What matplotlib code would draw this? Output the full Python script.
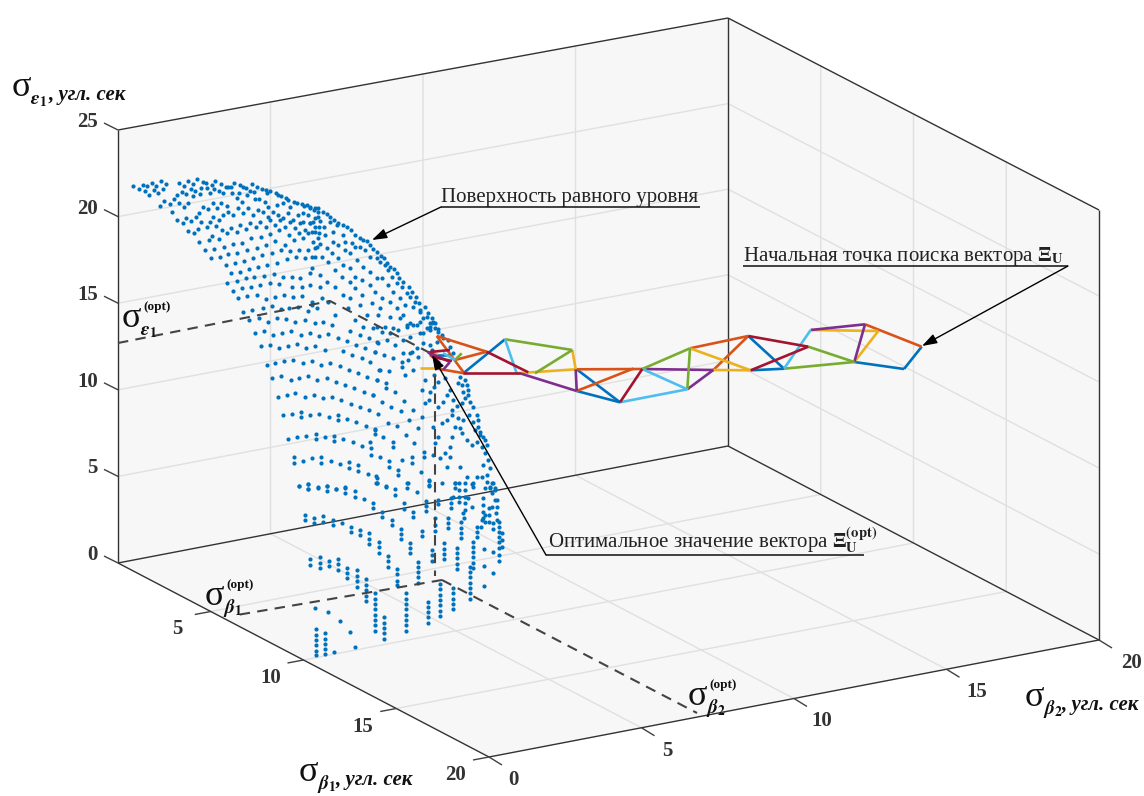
import numpy as np
import matplotlib
matplotlib.use('Agg')
import matplotlib.pyplot as plt

plt.rcParams['font.family'] = ['Liberation Serif', 'DejaVu Serif']
plt.rcParams['mathtext.fontset'] = 'stix'

# Axis limits and ticks
b1_ticks = [0, 5, 10, 15, 20]
b2_ticks = [0, 5, 10, 15, 20]
e_ticks = [0, 5, 10, 15, 20, 25]

# Box corners as they fall on the picture (b1, b2, top)
corners = {
    (0, 0, 0): (118, 563), (0, 1, 0): (728, 446), (1, 0, 0): (489, 757), (1, 1, 0): (1099, 640),
    (0, 0, 1): (118, 130), (0, 1, 1): (728, 18), (1, 0, 1): (489, 322), (1, 1, 1): (1099, 210),
}

# Points of the equal-level surface, read from the picture region by region
# each region: offset of the crop and points in crop units (3 units = 1 pixel)
pts_top_left = [
    (38,48),(56,58),(68,45),(74,62),(82,48),(88,75),(95,40),(102,60),(108,47),(115,70),(122,33),(128,57),(139,43),
    (178,40),(192,48),(205,33),(218,42),(231,27),(248,37),(258,40),(276,46),(285,33),(302,41),(318,50),(325,50),(333,52),
    (342,40),(360,45),(368,50),(378,55),(395,42),(390,62),(402,65),(412,52),(425,57),(438,60),(450,62),(467,68),(475,75),
    (483,78),(497,85),(505,90),(522,95),(530,100),(545,102),(552,108),(560,105),(570,112),(585,115),(595,115),
    (133,93),(121,108),(150,102),(163,88),(178,98),(172,76),(192,112),(155,126),(205,100),(185,65),(198,72),(212,58),
    (218,78),(226,62),(240,72),(244,55),(262,55),(270,68),(282,58),(298,64),(310,70),(335,70),(350,85),(358,70),(365,95),
    (380,75),(405,87),(418,88),(435,95),(440,70),(445,112),(470,105),(490,100),(510,112),(550,130),
    (172,150),(190,158),(198,143),(213,152),(228,140),(243,155),(237,128),(250,112),(265,118),(280,100),(292,115),(302,98),(322,108),
    (205,183),(222,190),(235,177),(238,215),(262,172),(270,155),(288,167),(280,140),(297,150),(310,135),(325,125),(340,135),
    (355,115),(370,130),(385,115),(400,135),(415,120),(430,125),(445,140),(460,125),(475,135),(490,145),(505,130),(520,150),
    (535,135),(550,155),(565,135),(580,155),(595,140),
    (268,210),(275,198),(296,208),(305,180),(322,190),(333,175),(350,185),(360,165),(377,178),(390,160),(407,172),(420,155),
    (437,170),(450,150),(465,165),(480,150),(495,170),(510,155),(525,175),(540,160),(555,180),(570,160),(585,185),(598,170),
    (255,240),(283,237),(312,230),(338,222),(365,218),(392,205),(422,202),(450,192),(478,180),(508,195),(538,190),(565,190),(595,205),
    (272,263),(300,260),(325,252),(352,248),(380,240),(410,235),(437,225),(465,212),(495,225),(522,210),(550,205),(578,215),
    (318,285),(345,280),(372,272),(398,265),(425,255),(455,248),(482,240),(510,242),(538,240),(565,240),(592,230),
    (332,308),(360,305),(388,298),(415,292),(442,285),(472,278),(500,268),(528,262),(556,265),(585,260),
    (320,338),(350,332),(377,325),(403,322),(432,318),(462,312),(488,320),(515,322),(540,325),(570,310),
    (338,362),(365,355),(393,350),(420,345),(450,340),(478,343),(515,350),(545,352),(600,350),
    (355,385),(382,378),(410,375),(437,388),(465,380),(492,375),(520,382),(547,378),(575,395),
    (370,425),(397,420),(428,415),(455,408),(482,418),(508,415),(535,410),(565,422),(590,415),
    (388,450),(418,445),(445,455),(472,445),(498,448),(525,455),(555,450),(585,458),
]
pts_top_right = [
    (0,115),(12,120),(25,125),(38,125),(50,132),(60,140),(72,150),(85,160),(98,165),(110,172),(122,180),(135,195),(150,205),
    (160,210),(170,212),(180,225),(190,238),(200,245),(212,258),(222,265),(232,280),(240,292),(252,297),(262,310),(268,325),
    (280,335),(296,350),(305,365),(318,382),(328,398),(345,410),(355,430),(365,445),(375,460),(385,478),
    (15,145),(30,152),(43,170),(60,155),(70,185),(80,165),(100,195),(105,215),(125,220),(135,230),(150,232),(165,240),(180,260),
    (200,265),(210,275),(225,285),(235,300),(245,320),(262,340),(275,350),(290,370),(300,380),(315,395),(330,420),(350,440),(365,458),
    (0,160),(15,170),(5,185),(28,190),(45,195),(70,215),(85,225),(105,240),(120,250),(140,270),(160,290),(180,305),(200,325),
    (215,325),(235,345),(250,365),(270,385),(285,405),(310,410),(330,425),(340,445),(360,470),
    (15,235),(30,222),(50,235),(65,250),(85,265),(100,285),(120,295),(135,320),(155,330),(180,345),(195,365),(215,385),(240,395),
    (260,415),(280,435),(300,460),(320,465),
    (5,260),(35,260),(55,275),(75,300),(95,320),(120,335),(135,355),(155,375),(185,400),(210,415),(240,440),(270,445),(290,470),
    (5,295),(30,315),(50,335),(75,350),(100,375),(120,385),(150,405),(170,435),(205,435),(225,470),(250,475),
    (0,345),(35,385),(55,395),(75,435),(115,415),(135,450),(160,470),(200,470),(40,455),(65,465),(5,405),
]
pts_mid_left = [
    (44,40),(73,34),(100,46),(127,40),(154,34),(184,46),(211,40),(238,48),(265,43),(295,55),(321,64),(330,34),(360,46),(387,55),(415,68),
    (62,79),(89,75),(118,85),(145,79),(172,73),(199,85),(226,79),(256,91),(310,94),(336,106),(348,75),(375,85),(405,97),
    (80,135),(106,129),(133,124),(160,120),(190,129),(217,124),(243,135),(270,129),(300,139),(327,151),(354,159),(366,115),(381,171),(411,181),(418,151),
    (95,174),(122,168),(152,180),(178,174),(205,168),(232,180),(262,174),(288,186),(315,195),(342,204),(372,215),(399,225),
    (113,231),(140,225),(166,219),(196,231),(223,225),(250,234),(277,231),(303,240),(333,251),(360,261),(387,269),(414,281),
    (128,285),(157,281),(184,275),(184,291),(211,285),(238,281),(268,291),(294,284),(294,300),(321,296),(348,306),(378,318),(405,326),(405,342),
    (145,356),(172,350),(199,347),(229,341),(229,356),(256,350),(283,347),(283,362),(309,356),(339,365),(366,377),(393,385),(393,404),
    (163,412),(163,428),(190,422),(217,415),(244,412),(244,428),(273,422),(300,433),(327,427),(327,443),(354,436),(354,452),(384,463),(411,473),(411,490),
    (178,499),(205,493),(205,508),(235,503),(262,499),(288,508),(315,503),
]
pts_mid_right = [
    (15,97),(0,127),(42,105),(30,150),(68,115),(58,152),(95,125),(20,180),(47,188),(47,205),(75,215),(8,225),(35,245),(62,262),
    (103,242),(128,270),(92,272),(156,292),(118,300),(15,330),(40,352),(68,365),(68,380),(107,345),(80,318),(53,308),(145,323),
    (133,368),(0,365),(30,412),(58,422),(58,440),(85,450),(85,465),(125,412),(125,428),(97,420),(162,395),(162,412),(152,455),
    (18,468),(18,490),(47,500),(178,480),(178,497),(115,490),(110,505),(178,240),(165,250),(180,215),(155,210),(192,200),(205,185),
    (225,175),(165,180),(193,165),(130,150),(150,5),(130,15),(110,15),(85,30),(60,40),(170,25),(150,40),(120,50),(100,60),(75,75),
    (50,60),(35,35),(10,25),(20,65),(100,100),(120,100),(140,85),(160,70),(180,75),(200,65),(220,55),(180,10),(190,5),(195,25),(180,30),
    (205,35),(215,45),(235,60),(240,80),(250,100),(185,90),(160,40),(145,110),(125,95),(115,120),(95,140),(105,165),
    (270,170),(285,180),(290,195),(275,195),(295,210),(280,215),(265,190),(295,225),(285,235),(300,245),(310,260),(275,250),(262,258),
    (250,240),(240,210),(232,225),(220,245),(205,260),(245,270),(232,300),(245,285),(265,295),(280,300),(298,285),(320,285),(325,300),
    (310,305),(325,320),(315,330),(330,335),(340,350),(330,345),(345,360),(350,375),(335,380),(320,365),(305,375),(290,360),(275,340),
    (270,325),(255,320),(245,350),(240,380),(225,400),(210,415),(190,405),(195,370),(205,350),(215,310),(190,320),
    (345,400),(355,420),(340,435),(360,445),(350,465),(335,470),(320,470),(365,490),(375,505),(360,505),(310,490),(290,470),(270,440),(255,490),(230,440),(240,410),
]
pts_bottom = [
    (28,18),(55,13),(55,28),(85,22),(112,18),(112,34),(138,28),(165,22),(165,40),(195,34),(195,50),(222,58),(249,70),(249,85),
    (275,97),(275,112),(305,120),(305,136),(332,146),(332,162),(332,178),(359,188),(359,205),(359,220),(385,245),(385,260),(385,275),(385,292),(385,308),
    (260,10),(287,18),(314,28),(314,46),(352,10),(380,37),(341,70),(341,88),(370,97),(370,112),(409,62),(409,78),(409,94),
    (45,105),(45,121),(72,115),(72,130),(100,108),(100,125),(129,120),(129,135),(156,129),
    (183,141),(183,157),(210,150),(210,165),(237,160),(237,176),(237,192),(266,185),(266,200),(266,218),(293,228),(293,243),(293,260),
    (320,268),(320,283),(320,303),(320,316),(61,236),(61,255),(90,232),(90,248),(90,265),(118,242),(118,258),(145,236),(145,252),(145,270),
    (171,263),(171,278),(171,294),(201,270),(201,288),(201,304),(201,320),(228,298),(228,314),(228,330),(228,347),(228,362),
    (255,340),(255,356),(255,372),(255,388),(255,404),(255,420),(255,436),(255,452),(282,412),(282,428),(282,444),(282,460),(282,476),
    (347,340),(347,356),(347,372),(347,388),(347,404),(347,420),(347,436),(347,452),(415,365),(415,380),(415,396),(415,412),(415,428),
    (451,312),(451,328),(451,344),(451,360),(451,376),(451,392),(451,408),(490,325),(490,340),(490,356),(490,372),(490,388),
    (540,260),(540,276),(540,292),(540,308),(540,324),(540,340),(540,356),(75,383),(115,397),(150,424),(180,457),(195,502),(132,517),
    (79,448),(79,464),(79,480),(79,496),(79,512),(79,526),(105,460),(105,476),(105,492),(105,507),(105,521),
    (425,210),(425,226),(425,243),(463,190),(463,206),(463,222),(463,238),(502,203),(502,219),(502,235),(502,251),(502,267),
    (550,185),(550,200),(550,216),(550,232),(550,248),(550,264),(582,207),(582,258),(582,317),(608,215),(608,278),
    (397,152),(397,168),(435,115),(435,135),(435,152),(475,113),(475,129),(475,145),(513,127),(513,143),(513,159),(513,175),(522,115),
    (560,140),(560,155),(560,170),(572,140),(575,120),(585,105),(585,125),(598,85),(598,105),(598,125),(610,130),(610,147),(617,100),
    (620,60),(620,80),(620,120),(628,125),(628,140),(628,155),(628,170),(628,185),(628,205),(628,225),(628,243),(635,160),(635,180),(635,200),
    (418,3),(418,15),(445,60),(445,72),(457,10),(484,55),(484,70),(484,85),(490,50),(495,8),(495,25),(507,10),(507,30),(507,50),(507,65),
    (525,10),(525,30),(525,50),(525,70),(525,90),(520,100),(545,12),(535,55),(545,80),(550,20),(580,55),(580,75),(580,95),(580,115),
    (585,25),(590,5),(600,20),(605,40),(610,10),(615,30),(605,80),(615,60),
]

# Simplex search path, each color: list of (start, end) in picture pixels
path_blue = [((921.7,346.7),(904,369)), ((904,369),(854.3,362)), ((748.3,336),(784,368.7)), ((784,368.7),(750.7,370.3)),
             ((576.7,369.3),(620,402.3)), ((576.7,391),(620,402.3)), ((505,339.3),(463.3,373.3)), ((430,355),(450,355))]
path_orange = [((865,324.3),(921.7,346.7)), ((748.3,336),(690,348.3)), ((748.3,336),(713.3,370)), ((576.7,369.3),(642.3,369)),
               ((576.7,391),(633.5,368.5)), ((436.7,336),(486.7,351.7)), ((436.7,336),(464.3,373.3)), ((486.7,351.7),(455,360)),
               ((435,368.3),(464.3,373.3)), ((430,355),(434,358))]
path_yellow = [((854.3,362),(878.3,331)), ((810.7,330),(878.3,331)), ((690,348.3),(750.7,370.3)), ((713.3,370),(750.7,370.3)),
               ((572.3,350),(575.7,369.3)), ((516.7,373.3),(575.7,369.3)), ((420,368.3),(435,368.3)), ((434,353),(438,355))]
path_purple = [((865,324.3),(854.3,362)), ((810.7,330),(865,324.3)), ((713.3,370),(687.3,389.3)), ((713.3,370),(642.3,369)),
               ((575.7,369.3),(576.7,391)), ((520,373.3),(576.7,391)), ((428,352),(450,362)), ((450,362),(443,370)), ((428,352),(440,363))]
path_green = [((854.3,362),(784,368.7)), ((808.3,346.7),(854.3,362)), ((690,348.3),(687.3,389.3)), ((690,348.3),(642.3,369)),
              ((572.3,350),(505,339.3)), ((572.3,350),(535,373.3)), ((455,360),(461.7,353.3))]
path_lightblue = [((810.7,330),(784,368.7)), ((642.3,369),(687.3,389.3)), ((620,402.3),(687.3,389.3)), ((505,339.3),(516.7,373.3)),
                  ((443,353),(455,360))]
path_red = [((808.3,346.7),(750.7,370.3)), ((748.3,336),(808.3,346.7)), ((642.3,369),(620,402.3)), ((486.7,351.7),(528.3,372.3)),
            ((463.3,373.3),(520,373.3)), ((433,357),(452,361)), ((430,352),(450,350))]

path_series = [(path_blue, '#0072BD'), (path_orange, '#D95319'), (path_yellow, '#EDB120'), (path_purple, '#7E2F8E'),
               (path_green, '#77AC30'), (path_lightblue, '#4DBEEE'), (path_red, '#A2142F')]


def project(b1, b2, e):
    # trilinear map from axis values to picture position
    u, v, w = b1 / 20, b2 / 20, e / 25
    out = np.zeros(2)
    for i, fu in ((0, 1 - u), (1, u)):
        for j, fv in ((0, 1 - v), (1, v)):
            for k, fw in ((0, 1 - w), (1, w)):
                out += fu * fv * fw * np.array(corners[(i, j, k)])
    return out


def seg(ax, p, q, color, lw, z, **kw):
    ax.plot([p[0], q[0]], [p[1], q[1]], color=color, lw=lw, zorder=z, solid_capstyle='butt', **kw)


def sigma_label(ax, x, y, sub, sup=False, text=None):
    ax.text(x, y, 'σ', fontsize=26, color='#111111', ha='left', va='baseline', zorder=8)
    ax.text(x + 18, y + 8, sub, fontsize=14, color='#111111', ha='left', va='baseline', zorder=8)
    if sup:
        ax.text(x + 21, y - 17, '(opt)', fontsize=9.5, fontweight='bold', color='#111111', ha='left', va='baseline', zorder=8)
    if text:
        ax.text(x + 36, y + 4, text, fontsize=15, fontweight='bold', fontstyle='italic', color='#111111',
                ha='left', va='baseline', zorder=8)


fig = plt.figure(figsize=(11.44, 7.96), dpi=100)
ax = fig.add_axes([0, 0, 1, 1])
ax.set_xlim(0, 1144)
ax.set_ylim(796, 0)
ax.axis('off')

# Panes
pane = '#F7F7F7'
for wall in ([(0, 0, 0), (0, 1, 0), (0, 1, 1), (0, 0, 1)],
             [(0, 1, 0), (1, 1, 0), (1, 1, 1), (0, 1, 1)],
             [(0, 0, 0), (1, 0, 0), (1, 1, 0), (0, 1, 0)]):
    ax.fill([corners[c][0] for c in wall], [corners[c][1] for c in wall], color=pane, lw=0, zorder=1)

# Grid
grid_c = '#E0E0E0'
for t in e_ticks[1:-1]:
    pts = [project(0, 0, t), project(0, 20, t), project(20, 20, t)]
    ax.plot([p[0] for p in pts], [p[1] for p in pts], color=grid_c, lw=1.0, zorder=2)
for t in b2_ticks[1:-1]:
    pts = [project(20, t, 0), project(0, t, 0), project(0, t, 25)]
    ax.plot([p[0] for p in pts], [p[1] for p in pts], color=grid_c, lw=1.0, zorder=2)
for t in b1_ticks[1:-1]:
    pts = [project(t, 0, 0), project(t, 20, 0), project(t, 20, 25)]
    ax.plot([p[0] for p in pts], [p[1] for p in pts], color=grid_c, lw=1.0, zorder=2)

# Box lines
box_c = '#333333'
for a, b in (((0, 0, 0), (0, 0, 1)), ((0, 0, 1), (0, 1, 1)), ((0, 1, 1), (0, 1, 0)), ((0, 0, 0), (0, 1, 0)),
             ((0, 1, 0), (1, 1, 0)), ((0, 1, 1), (1, 1, 1)), ((1, 1, 1), (1, 1, 0)), ((0, 0, 0), (1, 0, 0)), ((1, 0, 0), (1, 1, 0))):
    seg(ax, corners[a], corners[b], box_c, 1.0, 3)

# Ticks and tick labels
tick_c = '#404040'
tick_font = dict(fontsize=15, fontweight='bold', color='#333333', va='center', zorder=8)
for t in e_ticks:
    p = project(0, 0, t)
    seg(ax, p, p + np.array([-14, -7]), tick_c, 1.0, 3)
    ax.text(98, p[1] - 8, str(t), ha='right', **tick_font)
for t in b1_ticks[1:]:
    p = project(t, 0, 0)
    seg(ax, p, p + np.array([-16, 3]), tick_c, 1.0, 3)
    ax.text(p[0] - 33, p[1] + 18, str(t), ha='center', **tick_font)
for t in b2_ticks:
    p = project(20, t, 0)
    seg(ax, p, p + np.array([13, 8]), tick_c, 1.0, 3)
    ax.text(p[0] + 24 + 0.4 * t, p[1] + 23, str(t), ha='center', **tick_font)

# Surface points, each crop converted back to picture position
regions = [(pts_top_left, 120, 170), (pts_top_right, 310, 170), (pts_mid_left, 240, 320), (pts_mid_right, 370, 320), (pts_bottom, 290, 480)]
for pts, ox, oy in regions:
    arr = np.array(pts, dtype=float)
    ax.scatter(arr[:, 0] / 3 + ox, arr[:, 1] / 3 + oy, s=9, color='#0072BD', linewidths=0, zorder=4)

# Dashed guide lines
dash_c = '#444444'
guides = [[(118, 343), (330, 301), (432, 354)], [(435, 358), (435, 576)], [(442, 580), (237, 615)], [(442, 580), (697, 713)]]
for g in guides:
    ax.plot([p[0] for p in g], [p[1] for p in g], color=dash_c, lw=1.5, ls=(0, (5, 3.5)), zorder=5)

# Search path
for segs, col in path_series:
    for p, q in segs:
        seg(ax, p, q, col, 1.9, 6)

# Annotations
note_c = '#222222'
note_font = dict(fontsize=15, color='#222222', ha='left', va='baseline', zorder=8)
arrow = dict(arrowstyle='-|>,head_length=0.9,head_width=0.3', color='black', lw=1.0, shrinkA=0, shrinkB=0)

ax.text(441, 202, 'Поверхность равного уровня', **note_font)
seg(ax, (441, 207), (700, 207), note_c, 1.2, 7)
ax.annotate('', xy=(372, 240), xytext=(441, 207), arrowprops=arrow, zorder=7)

ax.text(743, 261, 'Начальная точка поиска вектора $\\mathbf{\\Xi}_{\\mathbf{U}}$', **note_font)
seg(ax, (743, 266), (1068, 266), note_c, 1.2, 7)
ax.annotate('', xy=(922, 346), xytext=(1068, 266), arrowprops=arrow, zorder=7)

ax.text(548, 548, 'Оптимальное значение вектора $\\mathbf{\\Xi}_{\\mathbf{U}}^{\\mathbf{(opt)}}$', **note_font)
seg(ax, (546, 555), (864, 555), note_c, 1.2, 7)
ax.annotate('', xy=(432, 355), xytext=(546, 555), arrowprops=arrow, zorder=7)

# Axis labels
eps1 = r'$\mathbfit{\varepsilon}_{\mathbf{1}}$'
beta1 = r'$\mathbfit{\beta}_{\mathbf{1}}$'
beta2 = r'$\mathbfit{\beta}_{\mathbf{2}}$'
sigma_label(ax, 12, 96, eps1, text=', угл. сек')
sigma_label(ax, 299, 781, beta1, text=', угл. сек')
sigma_label(ax, 1025, 706, beta2, text=', угл. сек')
sigma_label(ax, 122, 327, eps1, sup=True)
sigma_label(ax, 205, 605, beta1, sup=True)
sigma_label(ax, 688, 705, beta2, sup=True)

fig.savefig('out.png', dpi=100)
